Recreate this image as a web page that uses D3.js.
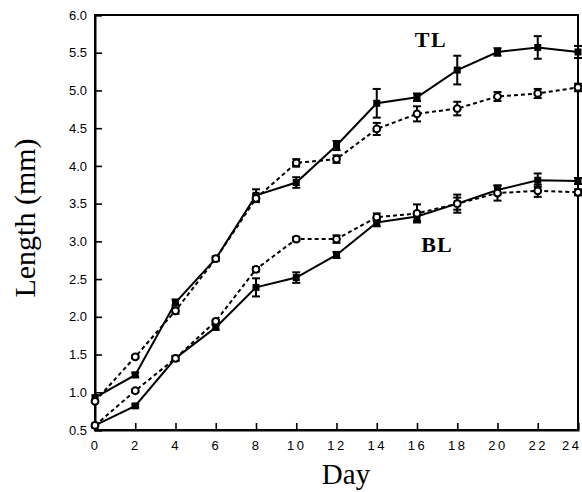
<!DOCTYPE html>
<html>
<head>
<meta charset="utf-8">
<script src="https://cdn.jsdelivr.net/npm/d3@7"></script>
<style>
  body { margin: 0; background: #fff; }
  svg { display: block; }
</style>
</head>
<body>
<div class="chart"></div>
<script>
// jours
const days = [0, 2, 4, 6, 8, 10, 12, 14, 16, 18, 20, 22, 24];
const yTicks = [0.5, 1.0, 1.5, 2.0, 2.5, 3.0, 3.5, 4.0, 4.5, 5.0, 5.5, 6.0];

// TL (total length)
const tlFilled    = [0.93, 1.23, 2.19, 2.77, 3.61, 3.78, 4.27, 4.83, 4.91, 5.27, 5.51, 5.57, 5.51];
const tlFilledErr = [0.00, 0.03, 0.04, 0.03, 0.08, 0.07, 0.06, 0.19, 0.05, 0.19, 0.05, 0.15, 0.08];
const tlOpen      = [0.88, 1.47, 2.08, 2.77, 3.57, 4.04, 4.09, 4.49, 4.69, 4.76, 4.92, 4.96, 5.04];
const tlOpenErr   = [0.00, 0.02, 0.04, 0.02, 0.05, 0.05, 0.05, 0.08, 0.10, 0.09, 0.06, 0.06, 0.05];

// BL
const blFilled    = [0.56, 0.82, 1.45, 1.86, 2.39, 2.52, 2.82, 3.25, 3.33, 3.50, 3.68, 3.81, 3.80];
const blFilledErr = [0.00, 0.02, 0.03, 0.03, 0.12, 0.07, 0.04, 0.05, 0.06, 0.08, 0.06, 0.09, 0.04];
const blOpen      = [0.56, 1.02, 1.45, 1.94, 2.63, 3.03, 3.03, 3.32, 3.37, 3.50, 3.64, 3.67, 3.65];
const blOpenErr   = [0.00, 0.02, 0.03, 0.02, 0.03, 0.03, 0.05, 0.05, 0.12, 0.12, 0.10, 0.08, 0.04];

const width = 582, height = 492;
const margin = { top: 15, right: 4, bottom: 62, left: 95 };

const svg = d3.create('svg')
    .attr('width', width)
    .attr('height', height)
    .attr('viewBox', `0 0 ${width} ${height}`);

const x = d3.scaleLinear().domain([0, 24]).range([margin.left, width - margin.right]);
const y = d3.scaleLinear().domain([0.5, 6.0]).range([height - margin.bottom, margin.top]);

// cadre
svg.append('rect')
    .attr('x', x(0)).attr('y', y(6))
    .attr('width', x(24) - x(0)).attr('height', y(0.5) - y(6))
    .attr('fill', 'none').attr('stroke', '#000').attr('stroke-width', 2);

// axes (ticks vers l'intérieur)
const xAxis = d3.axisBottom(x).tickValues(days).tickSize(-7).tickPadding(11).tickFormat(d3.format('d'));
const yAxis = d3.axisLeft(y).tickValues(yTicks).tickSize(-7).tickPadding(8).tickFormat(d3.format('.1f'));

const gx = svg.append('g')
    .attr('transform', `translate(0, ${y(0.5)})`)
    .call(xAxis);
const gy = svg.append('g')
    .attr('transform', `translate(${x(0)}, 0)`)
    .call(yAxis);

[gx, gy].forEach(g => {
    g.select('.domain').attr('stroke-width', 2);
    g.selectAll('.tick line').attr('stroke-width', 1.6);
    g.selectAll('.tick text')
        .attr('font-family', 'Liberation Sans, Arial, sans-serif')
        .attr('font-size', 13)
        .attr('fill', '#000');
});
gx.selectAll('.tick text').attr('letter-spacing', '2.5px');
// le dernier label colle au bord droit
gx.selectAll('.tick text').filter(d => d === 24)
    .attr('text-anchor', 'end')
    .attr('x', 3);

// séries
const series = [
    { values: tlFilled, err: tlFilledErr, filled: true },
    { values: tlOpen, err: tlOpenErr, filled: false },
    { values: blFilled, err: blFilledErr, filled: true },
    { values: blOpen, err: blOpenErr, filled: false }
];

const line = d3.line().x((d, i) => x(days[i])).y(d => y(d));

series.forEach(s => {
    svg.append('path')
        .datum(s.values)
        .attr('d', line)
        .attr('fill', 'none')
        .attr('stroke', '#000')
        .attr('stroke-width', 2)
        .attr('stroke-dasharray', s.filled ? null : '4,3');

    const pts = s.values.map((v, i) => ({ day: days[i], v: v, e: s.err[i] }));

    // barres d'erreur
    const eb = svg.append('g').selectAll('g')
        .data(pts.filter(d => d.e > 0))
        .join('g');
    eb.append('line')
        .attr('x1', d => x(d.day)).attr('x2', d => x(d.day))
        .attr('y1', d => y(d.v + d.e)).attr('y2', d => y(d.v - d.e))
        .attr('stroke', '#000').attr('stroke-width', 2);
    eb.selectAll('line.cap')
        .data(d => [[d.day, d.v + d.e], [d.day, d.v - d.e]])
        .join('line')
        .attr('class', 'cap')
        .attr('x1', d => x(d[0]) - 4).attr('x2', d => x(d[0]) + 4)
        .attr('y1', d => y(d[1])).attr('y2', d => y(d[1]))
        .attr('stroke', '#000').attr('stroke-width', 2);

    if (s.filled) {
        svg.append('g').selectAll('rect')
            .data(pts)
            .join('rect')
            .attr('x', d => x(d.day) - 3.5)
            .attr('y', d => y(d.v) - 3.5)
            .attr('width', 7).attr('height', 7)
            .attr('fill', '#000');
    } else {
        svg.append('g').selectAll('circle')
            .data(pts)
            .join('circle')
            .attr('cx', d => x(d.day))
            .attr('cy', d => y(d.v))
            .attr('r', 3.4)
            .attr('fill', '#fff')
            .attr('stroke', '#000')
            .attr('stroke-width', 2);
    }
});

// étiquettes
svg.append('text')
    .attr('x', 431).attr('y', 47)
    .attr('text-anchor', 'middle')
    .attr('font-family', 'Liberation Serif, Times New Roman, serif')
    .attr('font-weight', 'bold')
    .attr('font-size', 22)
    .attr('letter-spacing', '1.5px')
    .text('TL');

svg.append('text')
    .attr('x', 437).attr('y', 252)
    .attr('text-anchor', 'middle')
    .attr('font-family', 'Liberation Serif, Times New Roman, serif')
    .attr('font-weight', 'bold')
    .attr('font-size', 22)
    .attr('letter-spacing', '1px')
    .text('BL');

svg.append('text')
    .attr('x', 346).attr('y', 484)
    .attr('text-anchor', 'middle')
    .attr('font-family', 'Liberation Serif, Times New Roman, serif')
    .attr('font-size', 29)
    .text('Day');

svg.append('text')
    .attr('transform', `translate(35, 218) rotate(-90)`)
    .attr('text-anchor', 'middle')
    .attr('font-family', 'Liberation Serif, Times New Roman, serif')
    .attr('font-size', 30)
    .text('Length (mm)');

document.querySelector('.chart').appendChild(svg.node());
</script>
</body>
</html>
